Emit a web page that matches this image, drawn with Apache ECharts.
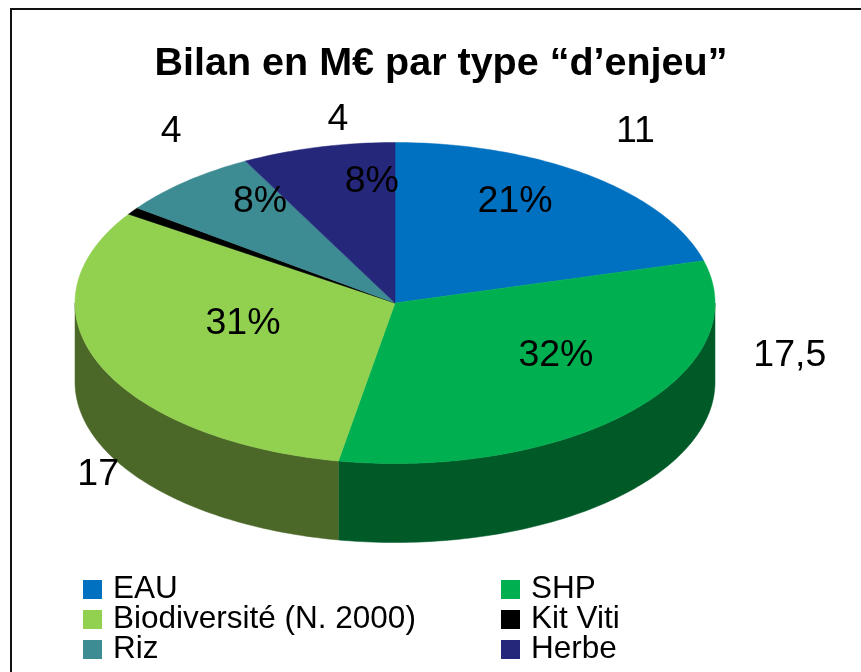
<!DOCTYPE html>
<html>
<head>
<meta charset="utf-8">
<style>html,body{margin:0;padding:0;background:#fff}#c{width:861px;height:672px}</style>
<script src="https://cdn.jsdelivr.net/npm/echarts@6/dist/echarts.min.js"></script>
</head>
<body>
<div id="c"></div>
<script>
// Data
const categories = ['EAU', 'SHP', 'Biodiversité (N. 2000)', 'Kit Viti', 'Riz', 'Herbe'];
const sliceValues = [11, 17, 16.7, 0.4, 3.8, 4.1];
const valueLabels = ['11', '17,5', '17', '', '4', '4'];
const percentLabels = ['21%', '32%', '31%', '', '8%', '8%'];
const chartTitle = 'Bilan en M€ par type “d’enjeu”';

// Styling
const topColors = ['#0070C0', '#00B050', '#92D050', '#000000', '#3D8B93', '#25277A'];
const sideColors = ['#005490', '#005A28', '#4C6828', '#000000', '#2E686E', '#1C1D5C'];
// Label placement relative to each slice's mid-angle: [angle shift in degrees, radius fraction]
const percentPlace = [[-6.9, .74], [-10, .596], [8.4, .491], [0, 0], [7.3, .765], [8.5, .766]];
const valuePlace = [[-2.4, 1.311], [-27.7, 1.276], [-25.8, 1.411], [0, 0], [7.7, 1.283], [5.1, 1.164]];
const pie = { cx: 395, cy: 303, rx: 320, ry: 160.5, depth: 79 };
const font = '"Liberation Sans", Arial, sans-serif';
const labelSize = 37.5;
const labelDrop = 1;

const total = sliceValues.reduce((a, b) => a + b, 0);
const toAngle = v => echarts.number.linearMap(v, [0, total], [0, 360]);
const pt = (deg, r, dy) => {
  const a = deg * Math.PI / 180;
  return [pie.cx + r * pie.rx * Math.sin(a), pie.cy - r * pie.ry * Math.cos(a) + (dy || 0)];
};
function arc(from, to, dy) {
  const pts = [];
  const n = Math.max(2, Math.ceil(Math.abs(to - from)));
  for (let i = 0; i <= n; i++) pts.push(pt(from + (to - from) * i / n, 1, dy));
  return pts;
}
function label(text, place, mid, size) {
  const p = pt(mid + place[0], place[1], labelDrop);
  return { type: 'text', silent: true, z2: 50, style: { text, x: p[0], y: p[1], fill: '#000', align: 'center', verticalAlign: 'middle', font: size + 'px ' + font } };
}

let cumulative = 0;
const series = categories.map((name, i) => {
  const start = cumulative;
  cumulative += sliceValues[i];
  return {
    type: 'custom',
    name,
    coordinateSystem: 'none',
    silent: true,
    z: 2,
    itemStyle: { color: topColors[i] },
    data: [[start, cumulative]],
    renderItem(params, api) {
      const a0 = toAngle(api.value(0));
      const a1 = toAngle(api.value(1));
      const children = [];
      const s0 = Math.max(a0, 90), s1 = Math.min(a1, 270);
      if (s1 > s0) {
        const upper = arc(s0, s1, 0);
        const lower = arc(s1, s0, pie.depth);
        children.push({
          type: 'polygon',
          shape: { points: upper.concat(lower) },
          style: { fill: sideColors[i], stroke: sideColors[i], lineWidth: 0.5 }
        });
      }
      children.push({
        type: 'polygon',
        shape: { points: [[pie.cx, pie.cy]].concat(arc(a0, a1, 0)) },
        style: { fill: topColors[i], stroke: topColors[i], lineWidth: 0.5 }
      });
      const mid = (a0 + a1) / 2;
      if (percentLabels[i]) children.push(label(percentLabels[i], percentPlace[i], mid, labelSize));
      if (valueLabels[i]) children.push(label(valueLabels[i], valuePlace[i], mid, labelSize));
      return { type: 'group', children };
    }
  };
});

const legendBase = {
  orient: 'vertical',
  top: 573.5,
  padding: 0,
  itemWidth: 19,
  itemHeight: 19,
  itemGap: -2,
  icon: 'rect',
  selectedMode: false,
  textStyle: { fontFamily: font, fontSize: 31.5, color: '#000', lineHeight: 30, padding: [0, 0, 0, 6] }
};

const chart = echarts.init(document.getElementById('c'), null, { renderer: 'canvas' });
chart.setOption({
  animation: false,
  backgroundColor: '#ffffff',
  title: {
    text: chartTitle,
    left: 441,
    top: 44,
    textAlign: 'center',
    padding: 0,
    textStyle: { fontFamily: font, fontSize: 39.5, fontWeight: 'bold', color: '#000' }
  },
  legend: [
    Object.assign({}, legendBase, { left: 83, data: categories.filter((_, i) => i % 2 === 0) }),
    Object.assign({}, legendBase, { left: 501, data: categories.filter((_, i) => i % 2 === 1) })
  ],
  graphic: [{
    type: 'polyline',
    silent: true,
    shape: { points: [[11, 672], [11, 9], [861, 9]] },
    style: { stroke: '#111', lineWidth: 2, fill: null }
  }],
  series
});
</script>
</body>
</html>
